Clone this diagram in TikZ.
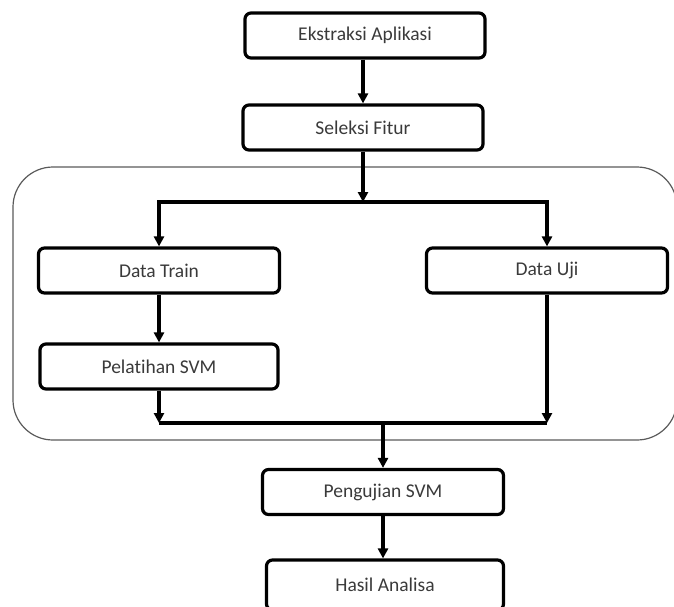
\documentclass[tikz,border=0pt]{standalone}
\usepackage{fontspec}
\setmainfont{Carlito}[RawFeature=-liga]
\usetikzlibrary{arrows.meta}
\definecolor{txt}{HTML}{3A3A3A}
\definecolor{frame}{HTML}{5A5A5A}
\begin{document}
\begin{tikzpicture}[x=1pt,y=-1pt,
  box/.style={draw=black,line width=3.2pt,rounded corners=6pt,fill=white,
    minimum width=#1,minimum height=45pt,inner sep=0pt,
    font=\fontsize{19.5}{22}\selectfont,text=txt},
  box/.default=240pt,
  ln/.style={draw=black,line width=3.2pt},
  arr/.style={ln,-{Triangle[width=10pt,length=10pt]}},
  container/.style={draw=frame,line width=1.2pt,rounded corners=40pt}]
\useasboundingbox (0,0) rectangle (674,606);
\draw[container] (13,167) rectangle (677,440);
\node[box] (ekstraksi) at (365,35.5) {Ekstraksi Aplikasi};
\node[box] (seleksi) at (363,127.5) {Seleksi Fitur};
\node[box=241pt] (train) at (159,270.5) {Data Train};
\node[box=241pt] (uji) at (547,270.5) {Data Uji};
\node[box=238pt] (pelatihan) at (159,366.5) {Pelatihan SVM};
\node[box=241pt] (pengujian) at (383,492) {Pengujian SVM};
\node[box=237pt,minimum height=50pt] (hasil) at (385,585) {Hasil Analisa};
\coordinate (split) at (363,202);
\coordinate (join) at (383,423);
\draw[arr] (ekstraksi.south -| seleksi.north) -- (seleksi.north);
\draw[arr] (seleksi.south) -- (split);
\draw[arr] (split) -- (train.north |- split) -- (train.north);
\draw[arr] (split) -- (uji.north |- split) -- (uji.north);
\draw[arr] (train.south) -- (pelatihan.north);
\draw[arr] (pelatihan.south) -- (pelatihan.south |- join);
\draw[arr] (uji.south) -- (uji.south |- join);
\draw[ln] (pelatihan.south |- join) -- (uji.south |- join);
\draw[arr] (join) -- (pengujian.north);
\draw[arr] (pengujian.south) -- (pengujian.south |- hasil.north);
\end{tikzpicture}
\end{document}
